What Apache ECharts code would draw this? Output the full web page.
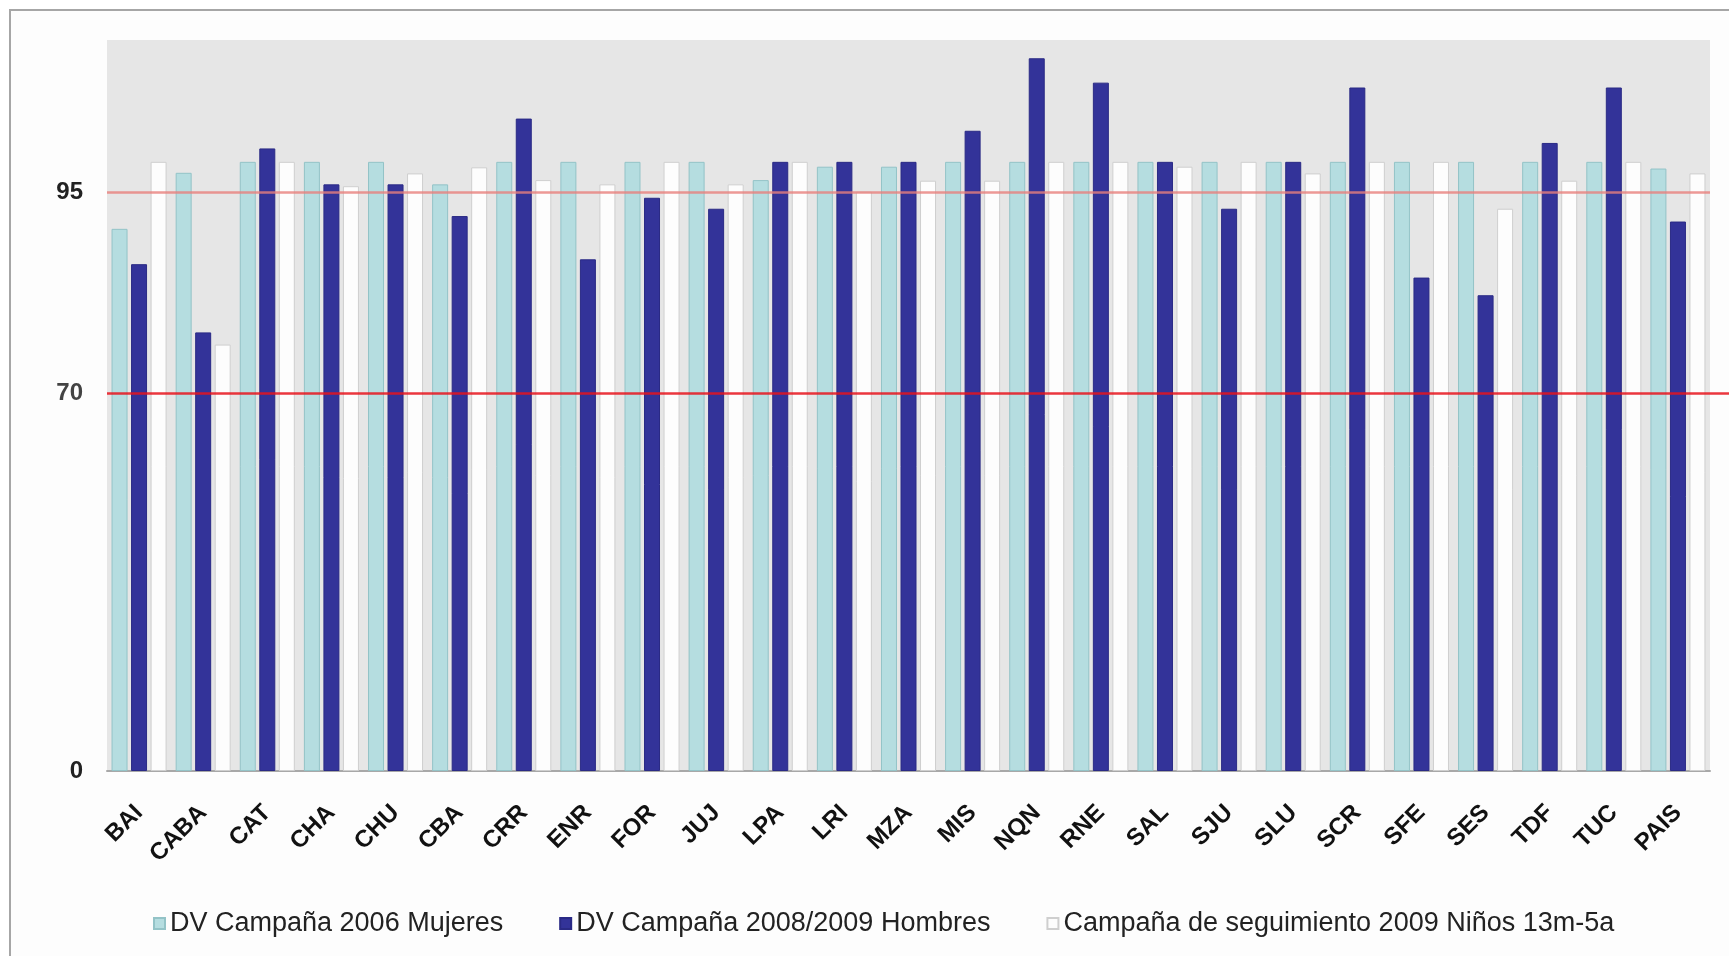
<!DOCTYPE html>
<html>
<head>
<meta charset="utf-8">
<script src="https://cdn.jsdelivr.net/npm/echarts@6/dist/echarts.min.js"></script>
<style>
	html, body { margin: 0; padding: 0; background: #fff; }
	#chart { width: 1729px; height: 956px; }
</style>
</head>
<body>
<div id="chart"></div>
<script>
var provincias = ['BAI', 'CABA', 'CAT', 'CHA', 'CHU', 'CBA', 'CRR', 'ENR', 'FOR', 'JUJ', 'LPA', 'LRI', 'MZA',
	'MIS', 'NQN', 'RNE', 'SAL', 'SJU', 'SLU', 'SCR', 'SFE', 'SES', 'TDF', 'TUC', 'PAIS'];

var mujeres2006 = [89, 98.2, 100, 100, 100, 96.3, 100, 100, 100, 100, 97, 99.2, 99.2,
	100, 100, 100, 100, 100, 100, 100, 100, 100, 100, 100, 98.9];

var hombres2008 = [83.2, 72, 102.2, 96.3, 96.3, 91.1, 107.1, 84, 94.1, 92.3, 100, 100, 100,
	105.1, 117, 113, 100, 92.3, 100, 112.2, 81, 78.1, 103.1, 112.2, 90.2];

var ninos2009 = [100, 70, 100, 96, 98.1, 99.1, 97, 96.3, 100, 96.3, 100, 95.1, 96.9,
	96.9, 100, 100, 99.2, 100, 98.1, 100, 100, 92.3, 96.9, 100, 98.1];

var nombres = ['DV Campaña 2006 Mujeres', 'DV Campaña 2008/2009 Hombres', 'Campaña de seguimiento 2009 Niños 13m-5a'];

// etiquetas del eje y: 0 y 95 son valores del eje, la linea "70" esta dibujada mas abajo (~62)
var ejeEtiquetas = [0, 95];
var linea95 = 95;
var linea70 = { valor: 62, texto: '70' };

var FONT = '"Liberation Sans", Arial, sans-serif';

var chart = echarts.init(document.getElementById('chart'));

var option = {
	animation: false,
	backgroundColor: '#ffffff',
	textStyle: { fontFamily: FONT },
	graphic: [{
		type: 'rect',
		shape: { x: 10, y: 10, width: 1760, height: 1000 },
		style: { fill: '#fdfdfd', stroke: '#a6a6a6', lineWidth: 2 },
		z: -10
	}],
	grid: {
		left: 107,
		right: 19,
		top: 40,
		bottom: 185,
		show: true,
		backgroundColor: '#e6e6e6',
		borderWidth: 0
	},
	legend: {
		data: nombres,
		left: 153,
		top: 910,
		padding: 0,
		itemWidth: 11,
		itemHeight: 11,
		itemGap: 56,
		icon: 'rect',
		textStyle: { fontSize: 27, color: '#222', fontFamily: FONT }
	},
	xAxis: {
		type: 'category',
		data: provincias,
		axisTick: { show: false },
		axisLine: { lineStyle: { color: '#a8a8a8', width: 2 } },
		axisLabel: {
			interval: 0,
			rotate: 45,
			margin: 38,
			fontSize: 24,
			fontWeight: 'bold',
			color: '#111',
			fontFamily: FONT
		}
	},
	yAxis: {
		type: 'value',
		min: 0,
		max: 120,
		interval: 5,
		splitLine: { show: false },
		axisLine: { show: false },
		axisTick: { show: false },
		axisLabel: {
			customValues: ejeEtiquetas,
			margin: 24,
			fontSize: 24,
			fontWeight: 'bold',
			color: '#222',
			fontFamily: FONT
		}
	},
	series: [{
		name: nombres[0],
		type: 'bar',
		data: mujeres2006,
		barWidth: 16,
		barGap: '22%',
		itemStyle: { color: '#b5dde0', borderColor: '#93c3c7', borderWidth: 1 }
	}, {
		name: nombres[1],
		type: 'bar',
		data: hombres2008,
		barWidth: 16,
		barGap: '22%',
		itemStyle: { color: '#333399', borderColor: '#2a2a85', borderWidth: 1 }
	}, {
		name: nombres[2],
		type: 'bar',
		data: ninos2009,
		barWidth: 16,
		barGap: '22%',
		itemStyle: { color: '#fdfdfd', borderColor: '#cfcfcf', borderWidth: 1 },
		markLine: {
			silent: true,
			symbol: ['none', 'none'],
			z: 10,
			data: [{
				yAxis: linea95,
				lineStyle: { color: '#e8807c', width: 2.5, type: 'solid', opacity: 0.8 },
				label: { show: false }
			},
				[{
					yAxis: linea70.valor,
					x: 107,
					lineStyle: { color: '#e8141c', width: 2.5, type: 'solid', opacity: 0.85 },
					label: {
						show: true,
						position: 'start',
						distance: 24,
						formatter: linea70.texto,
						fontSize: 24,
						fontWeight: 'bold',
						color: '#222',
						fontFamily: FONT
					}
				}, { yAxis: linea70.valor, x: 1729 }]
			]
		}
	}]
};

chart.setOption(option);
</script>
</body>
</html>
